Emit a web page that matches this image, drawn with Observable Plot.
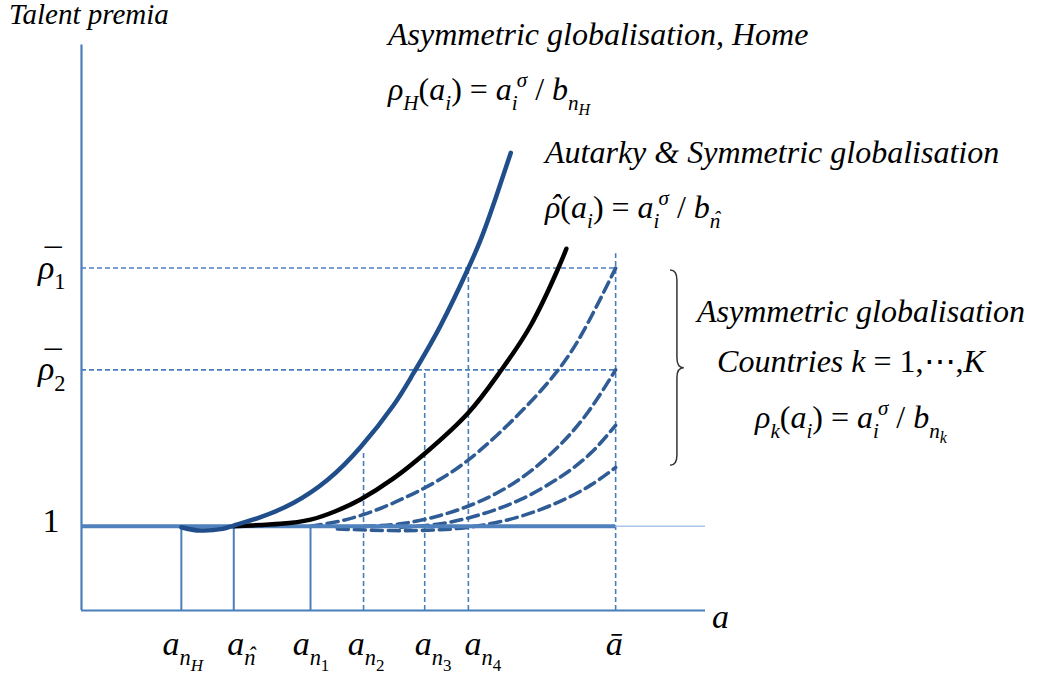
<!DOCTYPE html>
<html><head><meta charset="utf-8">
<script src="https://cdn.jsdelivr.net/npm/d3@7"></script>
<script src="https://cdn.jsdelivr.net/npm/@observablehq/plot@0.6"></script>
<style>
body{margin:0;background:#fff;}
#wrap{position:relative;width:1050px;height:674px;overflow:hidden;}
#wrap svg{display:block;position:absolute;left:0;top:0;}
.lbl{position:absolute;white-space:nowrap;font-family:"Liberation Serif","Times New Roman",Times,serif;line-height:1;color:#000;}
.lbl span{font-family:"Liberation Serif","Times New Roman",Times,serif;}
.it{font-style:italic;}
.rm{font-style:normal;}
.sb{position:relative;font-size:0.66em;top:0.4545em;}
.sp{position:relative;font-size:0.66em;top:-0.636em;}
.ss{position:relative;font-size:0.5em;top:0.96em;}
.acc{position:relative;}
.mk{position:absolute;left:0.12em;right:-0.05em;text-align:center;top:0;}
.mk.bar{top:-0.12em;}
.bl{display:inline-block;width:0;height:0;}
</style></head><body><div id="wrap"></div>
<script>
// ---- data (abstract units: a on x, talent premium rho on y) ----
const tickNames = ["nH", "nhat", "n1", "n2", "n3", "n4", "abar"];
const tickA = [1.60, 2.44, 3.67, 4.52, 5.50, 6.20, 8.56];
const solidTicks = [1.60, 2.44, 3.67];            // a_nH, a_n^, a_n1 (solid drop lines)
const dashTicks = [4.52, 5.50, 6.20, 8.56];       // a_n2, a_n3, a_n4, a_bar
const dashTickTops = [1.87, 2.86, 4.07, 4.24];
const rhoBarNames = ["1", "2"];
const rhoBar = [4.07, 2.86];
const aMax = 10, rhoMax = 6.72;

const homeA   = [1.60, 1.91, 2.26, 2.44, 2.87, 3.40, 3.94, 4.47, 5.00, 5.32, 5.75, 6.20, 6.43, 6.65, 6.88];
const homeRho = [0.99, 0.95, 0.97, 1.01, 1.11, 1.28, 1.55, 1.94, 2.44, 2.82, 3.38, 4.07, 4.47, 4.93, 5.44];

const autA   = [2.44, 2.71, 3.19, 3.67, 4.07, 4.47, 5.00, 5.54, 6.20, 6.71, 7.20, 7.63, 7.77];
const autRho = [1.00, 1.01, 1.03, 1.08, 1.18, 1.32, 1.57, 1.89, 2.35, 2.84, 3.39, 4.05, 4.30];

const k1A   = [3.67, 4.52, 5.48, 6.20, 6.92, 7.63, 8.11, 8.56];
const k1Rho = [1.00, 1.14, 1.45, 1.79, 2.27, 2.85, 3.41, 4.07];
const k2A   = [4.52, 5.11, 5.75, 6.39, 7.04, 7.63, 8.11, 8.56];
const k2Rho = [1.00, 1.03, 1.13, 1.30, 1.57, 1.94, 2.35, 2.86];
const k3A   = [5.11, 5.75, 6.39, 7.04, 7.68, 8.16, 8.56];
const k3Rho = [0.99, 1.03, 1.14, 1.32, 1.59, 1.87, 2.20];
const k4A   = [4.10, 4.95, 5.75, 6.39, 7.04, 7.68, 8.16, 8.56];
const k4Rho = [0.97, 0.95, 0.96, 1.01, 1.12, 1.30, 1.49, 1.70];

const braceA = [9.44, 9.55, 9.66];   // tips, spine, point
const braceRho = [4.04, 2.88, 1.72]; // top, middle, bottom

// ---- build tables ----
const zip = (A, R) => A.map((a, i) => ({a, rho: R[i]}));
const home = zip(homeA, homeRho), aut = zip(autA, autRho);
const ks = [zip(k1A, k1Rho), zip(k2A, k2Rho), zip(k3A, k3Rho), zip(k4A, k4Rho)];
const dropDash = dashTicks.map((a, i) => ({a, top: dashTickTops[i]}));
const aBar = tickA[6];

const thin = "#4a7ebb", home_c = "#1f4e8a", dash_c = "#2f5c94";
const dashH = {stroke: thin, strokeWidth: 1.6, strokeDasharray: "5,3"};

const plot = Plot.plot({
  width: 1050, height: 674,
  marginLeft: 81, marginRight: 345, marginTop: 0, marginBottom: 64,
  x: {domain: [0, aMax], axis: null},
  y: {domain: [0, 7.25], axis: null},
  marks: [
    Plot.ruleY(rhoBar, {x1: 0, x2: aBar, ...dashH}),
    Plot.ruleX(dropDash, {x: "a", y1: 0, y2: "top", ...dashH}),
    Plot.ruleX(solidTicks, {y1: 0, y2: 1, stroke: thin, strokeWidth: 2}),
    Plot.ruleY([1], {x1: aBar, x2: aMax, stroke: "#a9c5ea", strokeWidth: 1.5}),
    Plot.ruleY([0], {x1: 0, x2: aMax, stroke: thin, strokeWidth: 2.2}),
    Plot.ruleX([0], {y1: 0, y2: rhoMax, stroke: thin, strokeWidth: 2.2}),
    ...ks.map(k => Plot.line(k, {x: "a", y: "rho", curve: "natural", stroke: dash_c, strokeWidth: 3.6, strokeDasharray: "11,6"})),
    Plot.ruleY([1], {x1: 0, x2: aBar, stroke: "#4f81bd", strokeWidth: 4}),
    Plot.line(aut, {x: "a", y: "rho", curve: "natural", stroke: "#000", strokeWidth: 4.5}),
    Plot.line(home, {x: "a", y: "rho", curve: "natural", stroke: home_c, strokeWidth: 4.5})
  ]
});
const wrap = document.getElementById("wrap");
wrap.appendChild(plot);

const X = plot.scale("x"), Y = plot.scale("y");
const svg = d3.select(plot);

// brace
{
  const xl = X.apply(braceA[0]), xm = X.apply(braceA[1]), xp = X.apply(braceA[2]);
  const yt = Y.apply(braceRho[0]), ym = Y.apply(braceRho[1]), yb = Y.apply(braceRho[2]);
  const r = 10;
  const d = `M${xl},${yt} Q${xm},${yt} ${xm},${yt + r} L${xm},${ym - r} Q${xm},${ym} ${xp},${ym} Q${xm},${ym} ${xm},${ym + r} L${xm},${yb - r} Q${xm},${yb} ${xl},${yb}`;
  svg.append("path").attr("d", d).attr("fill", "none").attr("stroke", "#333").attr("stroke-width", 1.5);
}

// rich HTML labels: parts = [text, style('i'|'r'), level(0|'sub'|'sup'|'ss'), dx, accent]
const esc = s => s.replace(/&/g, "&amp;").replace(/</g, "&lt;");
const LVC = {0: "", sub: "sb", sup: "sp", ss: "ss"};
function markup(parts) {
  return parts.map(([str, st = "i", lv = 0, dx = 0, acc = null]) => {
    let inner = esc(str);
    if (acc) inner = `<span class="acc">${inner}<span class="mk${acc === "\u00AF" ? " bar" : ""}">${acc}</span></span>`;
    const cls = [st === "i" ? "it" : "rm", LVC[lv]].filter(Boolean).join(" ");
    const sty = dx ? ` style="margin-left:${dx}px"` : "";
    return `<span class="${cls}"${sty}>${inner}</span>`;
  }).join("");
}
function rich(x, y, parts, size = 30, anchor = "start") {
  const d = document.createElement("div");
  d.className = "lbl";
  d.style.fontSize = size + "px";
  d.style.left = "0px"; d.style.top = "0px";
  d.innerHTML = markup(parts) + '<span class="bl"></span>';
  wrap.appendChild(d);
  const r = d.getBoundingClientRect();
  const m = d.querySelector(".bl").getBoundingClientRect();
  const base = m.top - r.top;
  d.style.left = (anchor === "middle" ? x - r.width / 2 : x) + "px";
  d.style.top = (y - base) + "px";
}
const I = s => [s, "i", 0], R = s => [s, "r", 0];
const HAT = "\u02C6", BAR = "\u00AF";

// axis titles / annotations
rich(9, 24, [I("Talent premia")], 29);
rich(X.apply(aMax) + 7, 628, [I("a")], 34);

rich(388, 45, [I("Asymmetric globalisation, Home")], 32);
rich(388, 100, [I("ρ"), ["H", "i", "sub"], R("("), I("a"), ["i", "i", "sub"], R(") = "), I("a"), ["i", "i", "sub"], ["σ", "i", "sup", -1], R(" / "), I("b"), ["n", "i", "sub"], ["H", "i", "ss"]], 32);

rich(545, 163, [I("Autarky & Symmetric globalisation")], 32);
rich(545, 218, [["ρ", "i", 0, 0, HAT], R("("), I("a"), ["i", "i", "sub"], R(") = "), I("a"), ["i", "i", "sub"], ["σ", "i", "sup", -1], R(" / "), I("b"), ["n", "i", "sub", 0, HAT]], 32);

rich(861, 322, [I("Asymmetric globalisation")], 32, "middle");
rich(851, 372, [I("Countries "), I("k"), R(" = 1,\u22EF,"), I("K")], 32, "middle");
rich(851, 428, [I("ρ"), ["k", "i", "sub"], R("("), I("a"), ["i", "i", "sub"], R(") = "), I("a"), ["i", "i", "sub"], ["σ", "i", "sup", -1], R(" / "), I("b"), ["n", "i", "sub"], ["k", "i", "ss"]], 32, "middle");

// y labels
rhoBar.forEach((v, i) => rich(38, Y.apply(v) + 11, [["ρ", "i", 0, 0, BAR], [rhoBarNames[i], "r", "sub"]], 34));
rich(51, Y.apply(1) + 6, [R("1")], 34, "middle");

// x tick labels
const tickParts = {
  nH:   [I("a"), ["n", "i", "sub"], ["H", "i", "ss"]],
  nhat: [I("a"), ["n", "i", "sub", 0, HAT]],
  n1:   [I("a"), ["n", "i", "sub"], ["1", "r", "ss"]],
  n2:   [I("a"), ["n", "i", "sub"], ["2", "r", "ss"]],
  n3:   [I("a"), ["n", "i", "sub"], ["3", "r", "ss"]],
  n4:   [I("a"), ["n", "i", "sub"], ["4", "r", "ss"]],
  abar: [I("ā")]
};
const nudge = [2, 8, 1, 3, 9, 15, -1];
tickNames.forEach((n, i) => rich(X.apply(tickA[i]) + nudge[i], 655, tickParts[n], 34, "middle"));
</script></body></html>
